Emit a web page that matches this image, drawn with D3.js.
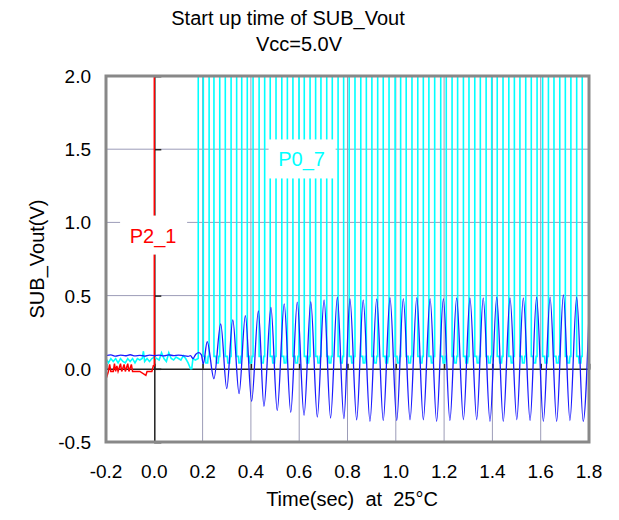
<!DOCTYPE html>
<html><head><meta charset="utf-8">
<script src="https://cdn.jsdelivr.net/npm/d3@7"></script>
<style>body{margin:0;background:#fff}svg{display:block}text{font-family:"Liberation Sans",Arial,sans-serif}</style>
</head><body>
<script>
// ---------- data ----------
const xTicks = [-0.2,0.0,0.2,0.4,0.6,0.8,1.0,1.2,1.4,1.6,1.8];
const yTicks = [-0.5,0.0,0.5,1.0,1.5,2.0];
const title1 = "Start up time of SUB_Vout";
const title2 = "Vcc=5.0V";
const xTitle = "Time(sec)  at  25°C";
const yTitle = "SUB_Vout(V)";

// blue: SUB_Vout (pre-start noise, then oscillation extrema)
const blueT = [-0.20,-0.18,-0.16,-0.14,-0.12,-0.10,-0.08,-0.06,-0.04,-0.02,0.00,0.02,0.04,0.06,0.08,0.10,0.12,0.14,0.15,0.16,0.172,0.185,0.195,0.203,
 0.219,0.247,0.275,0.300,0.325,0.351,0.377,0.403,0.431,0.454,0.483,0.509,0.538,0.565,0.592,0.620,0.648,0.675,0.703,
 0.730,0.758,0.785,0.810,0.838,0.865,0.893,0.921,0.948,0.976,1.004,1.031,1.059,1.087,1.114,1.142,1.169,1.197,1.224,
 1.252,1.280,1.307,1.335,1.362,1.390,1.418,1.445,1.473,1.501,1.528,1.556,1.583,1.611,1.639,1.666,1.694,1.721,1.749,1.776,1.800];
const blueV = [0.090,0.095,0.086,0.093,0.089,0.096,0.088,0.092,0.087,0.094,0.090,0.093,0.088,0.095,0.090,0.094,0.089,0.085,0.090,0.070,0.100,0.110,0.095,0.034,
 0.186,-0.068,0.307,-0.136,0.334,-0.170,0.363,-0.223,0.395,-0.257,0.420,-0.286,0.443,-0.298,0.455,-0.318,0.459,-0.330,0.470,
 -0.336,0.489,-0.341,0.480,-0.348,0.470,-0.359,0.477,-0.354,0.486,-0.354,0.480,-0.348,0.486,-0.348,0.480,-0.359,0.480,-0.354,
 0.484,-0.348,0.484,-0.348,0.484,-0.359,0.490,-0.359,0.484,-0.348,0.484,-0.354,0.490,-0.359,0.490,-0.359,0.504,-0.354,0.490,-0.359,0.370];

// red: P2_1
const redT = [-0.200,-0.195,-0.190,-0.185,-0.180,-0.170,-0.165,-0.160,-0.155,-0.150,-0.140,-0.135,-0.125,-0.120,-0.110,-0.105,-0.095,-0.090,-0.060,-0.035,-0.030,-0.010,-0.004,0.000,0.000,1.800];
const redV = [-0.018,-0.045,-0.018,0.030,-0.018,-0.018,0.035,-0.018,0.020,-0.018,0.035,-0.018,0.030,-0.018,0.035,-0.018,0.030,-0.018,-0.018,-0.045,-0.018,-0.018,0.020,0.020,2.5,2.5];

// cyan: P0_7 (pre-start noise, then toggle edges)
const cyanNoiseT = [-0.20,-0.19,-0.18,-0.17,-0.16,-0.15,-0.14,-0.13,-0.12,-0.11,-0.10,-0.09,-0.08,-0.07,-0.06,-0.05,-0.045,-0.04,-0.03,-0.02,-0.01,0.00,0.01,0.02,0.03,0.04,0.05,0.06,0.07,0.08,0.09,0.10,0.11,0.12,0.13,0.14,0.15,0.155,0.16,0.17,0.182];
const cyanNoiseV = [0.07,0.04,0.07,0.05,0.07,0.04,0.07,0.05,0.04,0.07,0.05,0.07,0.04,0.07,0.06,0.07,0.12,0.05,0.07,0.05,0.07,0.08,0.07,0.06,0.11,0.07,0.05,0.11,0.07,0.06,0.08,0.07,0.06,0.09,0.07,0.04,0.0,0.0,0.07,0.06,0.07];
const cyanEdges = [0.182,0.203,0.227,0.247,0.271,0.294,0.318,0.341,0.362,0.385,0.409,0.434,0.457,0.480,0.504,0.528,0.551,0.574,0.599,0.621,
 0.645,0.668,0.690,0.714,0.737,0.761,0.784,0.807,0.831,0.855,0.878,0.901,0.925,0.948,0.972,0.997,1.020,1.043,1.067,1.091,
 1.114,1.137,1.161,1.186,1.209,1.233,1.256,1.280,1.303,1.327,1.350,1.374,1.397,1.420,1.444,1.468,1.491,1.514,1.538,1.561,
 1.585,1.608,1.632,1.655,1.679,1.702,1.725,1.749,1.772];
const cyanLevels = [2.5, 0.085, 0.04]; // high (off scale), low shoulder, low floor

const labels = [{text:"P2_1", x:-0.005, y:0.91, color:"#ff0000"},{text:"P0_7", x:0.61, y:1.43, color:"#00ffff"}];

// ---------- chart ----------
const W=619,H=520;
const L=106,R=589,T=76,B=442;
const x=d3.scaleLinear().domain([-0.2,1.8]).range([L,R]);
const y=d3.scaleLinear().domain([-0.5,2.0]).range([B,T]);
const fmt=d=>d3.format(".1f")(d).replace("\u2212","-");

const svg=d3.select("body").append("svg").attr("width",W).attr("height",H);
svg.append("defs").append("clipPath").attr("id","clip").append("rect")
  .attr("x",L).attr("y",T).attr("width",R-L).attr("height",B-T);

// gridlines
const grid=svg.append("g");
grid.selectAll("line.v").data(xTicks.filter(d=>d>0.01&&d<1.79)).join("line")
  .attr("x1",d=>x(d)).attr("x2",d=>x(d)).attr("y1",T).attr("y2",B)
  .attr("stroke","#9c9cb8").attr("stroke-width",1);
grid.selectAll("line.h").data(yTicks.filter(d=>d>0.01&&d<1.99)).join("line")
  .attr("x1",L).attr("x2",R).attr("y1",d=>y(d)).attr("y2",d=>y(d))
  .attr("stroke","#9c9cb8").attr("stroke-width",1);

// zero axes with inner ticks
const zx=svg.append("g").attr("transform",`translate(0,${y(0)})`)
  .call(d3.axisTop(x).tickValues(xTicks).tickSize(5).tickFormat(""));
zx.select(".domain").attr("stroke","#222").attr("stroke-width",1.5);
zx.selectAll(".tick line").attr("stroke","#222").attr("stroke-width",1.5);
const zy=svg.append("g").attr("transform",`translate(${x(0)},0)`)
  .call(d3.axisRight(y).tickValues(yTicks).tickSize(7).tickFormat(""));
zy.select(".domain").attr("stroke","#222").attr("stroke-width",1.5);
zy.selectAll(".tick line").attr("stroke","#222").attr("stroke-width",1.5);

const plot=svg.append("g").attr("clip-path","url(#clip)");

// cyan series
const cyanPts=cyanNoiseT.map((t,i)=>[t,cyanNoiseV[i]]);
cyanPts.push([cyanEdges[0],cyanLevels[0]]);
for(let i=1;i<cyanEdges.length;i+=2){
  const f=cyanEdges[i], r=(i+1<cyanEdges.length)?cyanEdges[i+1]:1.8;
  const a=f+(r-f)*0.35, b=f+(r-f)*0.75;
  cyanPts.push([f,cyanLevels[0]],[f,cyanLevels[1]],[a,cyanLevels[1]],[a+0.002,cyanLevels[2]],[b,cyanLevels[2]],[b+0.002,cyanLevels[1]],[r,cyanLevels[1]]);
  if(i+1<cyanEdges.length) cyanPts.push([r,cyanLevels[0]]);
}
const lineL=d3.line().x(d=>x(d[0])).y(d=>y(d[1]));
plot.append("path").attr("d",lineL(cyanPts)).attr("fill","none")
  .attr("stroke","#00ffff").attr("stroke-width",1.6);

// red series
plot.append("path").attr("d",lineL(redT.map((t,i)=>[t,redV[i]]))).attr("fill","none")
  .attr("stroke","#ff0000").attr("stroke-width",1.5);

// blue series
const lineC=d3.line().x(d=>x(d[0])).y(d=>y(d[1])).curve(d3.curveMonotoneX);
plot.append("path").attr("d",lineC(blueT.map((t,i)=>[t,blueV[i]]))).attr("fill","none")
  .attr("stroke","#1a1aff").attr("stroke-width",1.3);

// frame
svg.append("rect").attr("x",L).attr("y",T).attr("width",R-L).attr("height",B-T)
  .attr("fill","none").attr("stroke","#888").attr("stroke-width",3);

// tick labels
svg.append("g").selectAll("text").data(xTicks).join("text")
  .attr("x",d=>x(d)).attr("y",478).attr("text-anchor","middle")
  .attr("font-size",19).attr("fill","#000").text(fmt);
svg.append("g").selectAll("text").data(yTicks).join("text")
  .attr("x",91).attr("y",d=>y(d)+7).attr("text-anchor","end")
  .attr("font-size",19).attr("fill","#000").text(fmt);

// titles
svg.append("text").attr("x",288).attr("y",25).attr("text-anchor","middle").attr("font-size",20).text(title1);
svg.append("text").attr("x",299).attr("y",51).attr("text-anchor","middle").attr("font-size",20).text(title2);
svg.append("text").attr("x",352).attr("y",506).attr("text-anchor","middle").attr("font-size",20).style("white-space","pre").text(xTitle);
svg.append("text").attr("transform",`translate(44,${(T+B)/2}) rotate(-90)`).attr("text-anchor","middle").attr("font-size",20).text(yTitle);

// series labels with white boxes
labels.forEach(l=>{
  const g=svg.append("g");
  g.append("rect").attr("x",x(l.x)-33).attr("y",y(l.y)-20).attr("width",67).attr("height",39).attr("fill","#fff");
  g.append("text").attr("x",x(l.x)).attr("y",y(l.y)+7).attr("text-anchor","middle")
   .attr("font-size",20).attr("fill",l.color).text(l.text);
});
</script>
</body></html>
